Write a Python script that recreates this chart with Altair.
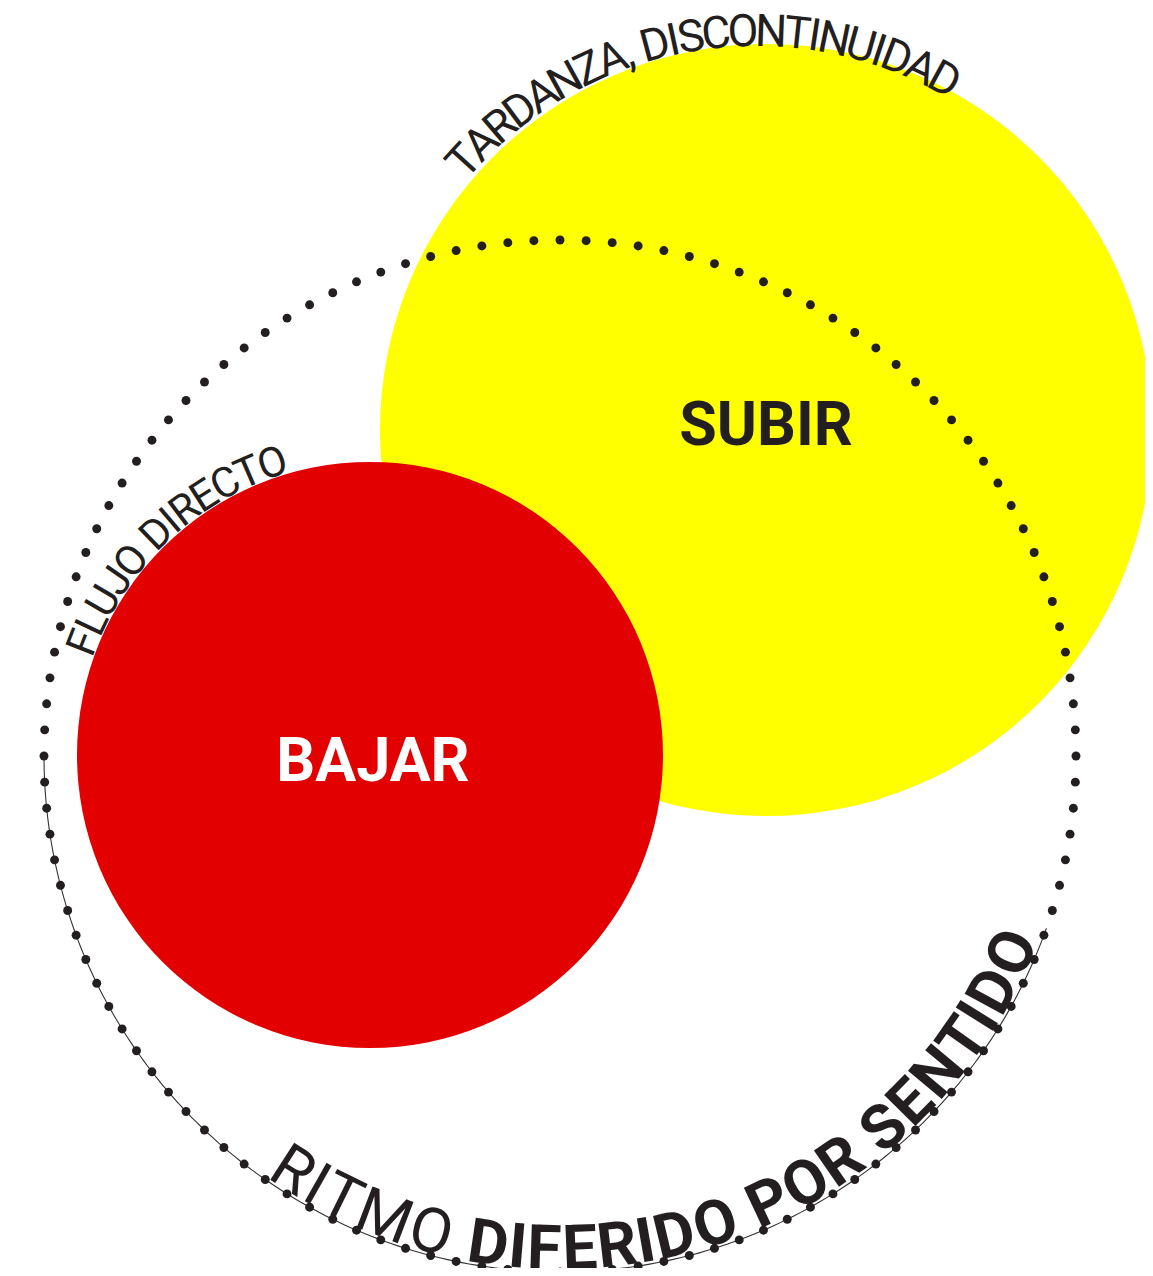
import math
import altair as alt
import pandas as pd

# ---------------- data ----------------
# filled circles (page-pixel coordinates)
circle_names = ["SUBIR", "BAJAR"]
circle_cx = [766, 370]
circle_cy = [430, 755]
circle_r = [386, 293]
circle_colors = ["#FFFF00", "#E30000"]
label_colors = ["#231F20", "#FFFFFF"]
label_x = [766, 373]
label_y = [445, 781]          # baseline of the centre labels
label_size = [61, 61]

# dotted ring and the thin arc under the bottom label
ring_cx, ring_cy, ring_r = 560, 756, 516
ring_dots = 124
line_from_deg, line_to_deg = 19.5, 180.0

# curved labels
arc_texts = ["TARDANZA, DISCONTINUIDAD", "FLUJO DIRECTO", "RITMO DIFERIDO POR SENTIDO"]
arc_cx = [756, 370, 560]
arc_cy = [425, 755, 756]
arc_rc = [395, 309, 491]            # radius of letter centres
arc_a0 = [-137.9, -158.6, 122.8]    # angle of first letter centre (deg, y down)
arc_a1 = [-61.4, -108.5, 23.5]      # angle of last letter centre
arc_side = ["out", "out", "in"]
arc_font = [45, 42, 62]
arc_bold_from = [99, 99, 6]         # index from which letters are bold

ink = "#231F20"

# approximate advance widths (em)
adv = {'A': .65, 'B': .62, 'C': .65, 'D': .66, 'E': .57, 'F': .56, 'I': .28,
       'J': .55, 'L': .54, 'M': .87, 'N': .71, 'O': .69, 'P': .63, 'R': .62,
       'S': .61, 'T': .60, 'U': .65, 'Z': .61, ',': .22, ' ': .25}

# ---------------- build tables ----------------
circles = pd.DataFrame({
    "name": circle_names, "x": circle_cx, "y": circle_cy,
    # Vega's circle symbol has radius sqrt(size)/2
    "area": [4 * r * r for r in circle_r], "color": circle_colors,
    "lx": label_x, "ly": label_y, "lcolor": label_colors, "fs": label_size,
})

dots = pd.DataFrame({
    "x": [ring_cx + ring_r * math.cos(2 * math.pi * k / ring_dots) for k in range(ring_dots)],
    "y": [ring_cy + ring_r * math.sin(2 * math.pi * k / ring_dots) for k in range(ring_dots)],
})

n_line = 200
line_angles = [math.radians(line_from_deg + (line_to_deg - line_from_deg) * i / (n_line - 1)) for i in range(n_line)]
arcline = pd.DataFrame({
    "i": list(range(n_line)),
    "x": [ring_cx + ring_r * math.cos(a) for a in line_angles],
    "y": [ring_cy + ring_r * math.sin(a) for a in line_angles],
})

rows = []
for t, cx, cy, rc, a0, a1, side, fs, bf in zip(arc_texts, arc_cx, arc_cy, arc_rc, arc_a0,
                                              arc_a1, arc_side, arc_font, arc_bold_from):
    ws = [adv.get(ch, .6) for ch in t]
    cum, centers = 0.0, []
    for w in ws:
        centers.append(cum + w / 2)
        cum += w
    span = centers[-1] - centers[0]
    cap = 0.711 * fs
    rb = rc - cap / 2 if side == "out" else rc + cap / 2
    for i, ch in enumerate(t):
        if ch == " ":
            continue
        ang = a0 + (a1 - a0) * (centers[i] - centers[0]) / span
        rad = math.radians(ang)
        rot = (ang + 90) if side == "out" else (ang - 90)
        rows.append({
            "ch": ch, "x": cx + rb * math.cos(rad), "y": cy + rb * math.sin(rad),
            "rot": rot % 360, "fs": fs, "bold": i >= bf,
        })
letters = pd.DataFrame(rows)

# ---------------- chart ----------------
W, H = 1137, 1260
xs = alt.Scale(domain=[8, 8 + W], nice=False, zero=False)
ys = alt.Scale(domain=[8, 8 + H], nice=False, zero=False, reverse=True)

def X(f="x"):
    return alt.X(f"{f}:Q", scale=xs, axis=None)

def Y(f="y"):
    return alt.Y(f"{f}:Q", scale=ys, axis=None)

discs = alt.Chart(circles).mark_circle(opacity=1, strokeWidth=0).encode(
    x=X(), y=Y(),
    size=alt.Size("area:Q", scale=None, legend=None),
    color=alt.Color("color:N", scale=None),
    order=alt.Order("name:N", sort="descending"),
)

line = alt.Chart(arcline).mark_line(color="#333333", strokeWidth=1.1).encode(
    x=X(), y=Y(), order="i:Q"
)

ring = alt.Chart(dots).mark_circle(opacity=1, color=ink, size=80).encode(x=X(), y=Y())

light = alt.Chart(letters[~letters["bold"]]).mark_text(
    font="Roboto", fontWeight=400, align="center", baseline="alphabetic", color=ink
).encode(
    x=X(), y=Y(), text="ch:N",
    angle=alt.Angle("rot:Q", scale=None),
    size=alt.Size("fs:Q", scale=None, legend=None),
)

bold = alt.Chart(letters[letters["bold"]]).mark_text(
    font="Roboto", fontWeight=700, align="center", baseline="alphabetic", color=ink
).encode(
    x=X(), y=Y(), text="ch:N",
    angle=alt.Angle("rot:Q", scale=None),
    size=alt.Size("fs:Q", scale=None, legend=None),
)

labels = alt.Chart(circles).mark_text(
    font="Roboto", fontWeight=700, align="center", baseline="alphabetic"
).encode(
    x=X("lx"), y=Y("ly"), text="name:N",
    color=alt.Color("lcolor:N", scale=None),
    size=alt.Size("fs:Q", scale=None, legend=None),
)

chart = alt.layer(discs, line, ring, light, bold, labels).properties(
    width=W, height=H, padding=0,
    autosize=alt.AutoSizeParams(type="none"),
    background="#FFFFFF",
).configure_view(stroke=None)

chart.save("out.html", embed_options={"renderer": "svg", "actions": False})
